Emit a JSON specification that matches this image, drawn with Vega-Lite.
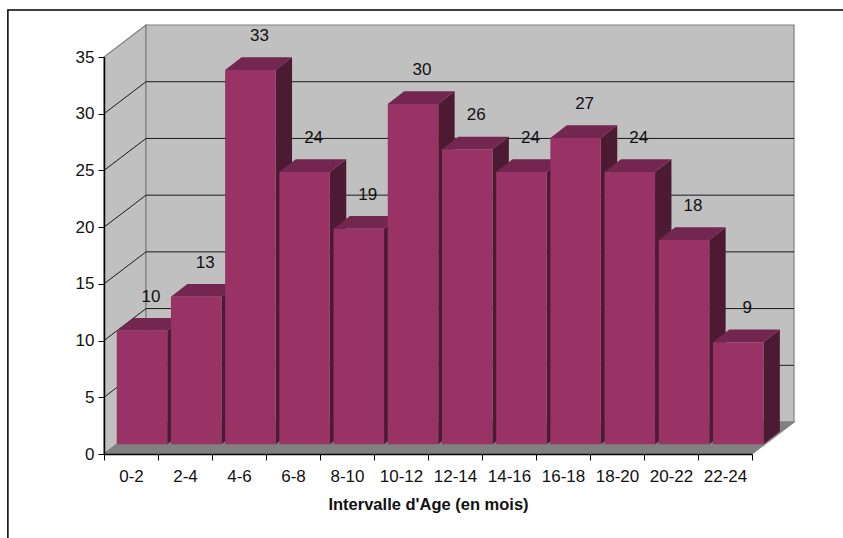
{
  "$schema": "https://vega.github.io/schema/vega-lite/v6.json",
  "width": 648,
  "height": 397,
  "padding": {"left": 104, "top": 57, "right": 91, "bottom": 84},
  "autosize": "none",
  "background": "white",
  "config": {
    "view": {"stroke": null},
    "font": "Liberation Sans",
    "axis": {"labelFont": "Liberation Sans", "labelColor": "#111111", "titleFont": "Liberation Sans", "titleColor": "#111111"}
  },
  "datasets": {
    "ages": [
      {"age": "0-2", "count": 10},
      {"age": "2-4", "count": 13},
      {"age": "4-6", "count": 33},
      {"age": "6-8", "count": 24},
      {"age": "8-10", "count": 19},
      {"age": "10-12", "count": 30},
      {"age": "12-14", "count": 26},
      {"age": "14-16", "count": 24},
      {"age": "16-18", "count": 27},
      {"age": "18-20", "count": 24},
      {"age": "20-22", "count": 18},
      {"age": "22-24", "count": 9}
    ],
    "gridValues": [{"v": 5}, {"v": 10}, {"v": 15}, {"v": 20}, {"v": 25}, {"v": 30}]
  },
  "resolve": {"scale": {"x": "independent"}},
  "layer": [
    {
      "layer": [
        {
          "description": "Outer chart frame, running past the window on the right and bottom",
          "data": {"values": [{"x": -1.78, "x2": 15, "y": 39.15, "y2": -12}]},
          "mark": {"type": "rect", "fill": "white", "stroke": "#000000", "strokeWidth": 1.5},
          "encoding": {
            "x": {"field": "x", "type": "quantitative", "scale": {"domain": [0, 12], "nice": false, "zero": false}, "axis": null},
            "x2": {"field": "x2"},
            "y": {
              "field": "y",
              "type": "quantitative",
              "scale": {"domain": [0, 35], "nice": false},
              "axis": {
                "orient": "left",
                "values": [0, 5, 10, 15, 20, 25, 30, 35],
                "title": null,
                "grid": false,
                "domainColor": "#000000",
                "domainWidth": 1.5,
                "tickColor": "#000000",
                "tickSize": 6,
                "tickWidth": 1,
                "labelFontSize": 17,
                "labelPadding": 4,
                "zindex": 1
              }
            },
            "y2": {"field": "y2"}
          }
        },
        {
          "description": "Side wall, back wall and floor of the 3D box",
          "data": {"values": [
            {"part": "side", "x": 0, "y": 0, "y2": 35},
            {"part": "side", "x": 0.778, "y": 2.82, "y2": 37.82},
            {"part": "back", "x": 0.778, "y": 2.82, "y2": 37.82},
            {"part": "back", "x": 12.778, "y": 2.82, "y2": 37.82},
            {"part": "floor", "x": 0, "y": 0, "y2": 0},
            {"part": "floor", "x": 0.778, "y": 0, "y2": 2.82},
            {"part": "floor", "x": 12, "y": 0, "y2": 2.82},
            {"part": "floor", "x": 12.778, "y": 2.82, "y2": 2.82}
          ]},
          "mark": {"type": "area", "orient": "vertical", "stroke": "#808080", "strokeWidth": 1.2},
          "encoding": {
            "x": {"field": "x", "type": "quantitative"},
            "y": {"field": "y", "type": "quantitative", "stack": null},
            "y2": {"field": "y2"},
            "detail": {"field": "part"},
            "color": {
              "field": "part",
              "type": "nominal",
              "legend": null,
              "scale": {
                "domain": ["side", "back", "floor", "barSide", "barTop", "barFront"],
                "range": ["#c0c0c0", "#c0c0c0", "#808080", "#4d1a33", "#732650", "#993366"]
              }
            }
          }
        },
        {
          "description": "Gridlines bending from the side wall onto the back wall",
          "data": {"name": "gridValues"},
          "transform": [
            {"calculate": "[{x: 0, y: datum.v}, {x: 0.778, y: datum.v + 2.82}, {x: 12.778, y: datum.v + 2.82}]", "as": "pts"},
            {"flatten": ["pts"]},
            {"calculate": "datum.pts.x", "as": "px"},
            {"calculate": "datum.pts.y", "as": "py"}
          ],
          "mark": {"type": "line", "color": "#1a1a1a", "strokeWidth": 1},
          "encoding": {
            "x": {"field": "px", "type": "quantitative"},
            "y": {"field": "py", "type": "quantitative"},
            "detail": {"field": "v"}
          }
        },
        {
          "description": "Each bar as side, top and front faces, painted left to right",
          "data": {"name": "ages"},
          "transform": [
            {"calculate": "parseInt(split(datum.age, '-')[0]) / 2 * 1.0037 + 0.236", "as": "x0"},
            {"calculate": "datum.x0 + 0.935", "as": "x1"},
            {"calculate": "datum.count + 0.86", "as": "t"},
            {"calculate": "[{f: 'barSide', x: datum.x1, y: 0.86, y2: datum.t}, {f: 'barSide', x: datum.x1 + 0.304, y: 1.98, y2: datum.t + 1.12}, {f: 'barTop', x: datum.x0, y: datum.t, y2: datum.t}, {f: 'barTop', x: datum.x0 + 0.304, y: datum.t, y2: datum.t + 1.12}, {f: 'barTop', x: datum.x1, y: datum.t, y2: datum.t + 1.12}, {f: 'barTop', x: datum.x1 + 0.304, y: datum.t + 1.12, y2: datum.t + 1.12}, {f: 'barFront', x: datum.x0, y: 0.86, y2: datum.t}, {f: 'barFront', x: datum.x1, y: 0.86, y2: datum.t}]", "as": "faces"},
            {"flatten": ["faces"]},
            {"calculate": "datum.faces.f", "as": "part"},
            {"calculate": "datum.faces.x", "as": "px"},
            {"calculate": "datum.faces.y", "as": "py"},
            {"calculate": "datum.faces.y2", "as": "py2"}
          ],
          "mark": {"type": "area", "orient": "vertical"},
          "encoding": {
            "x": {"field": "px", "type": "quantitative"},
            "y": {"field": "py", "type": "quantitative", "stack": null},
            "y2": {"field": "py2"},
            "detail": {"field": "age"},
            "color": {"field": "part", "type": "nominal", "legend": null}
          }
        },
        {
          "description": "Value labels floating above the bars",
          "data": {"name": "ages"},
          "transform": [
            {"calculate": "parseInt(split(datum.age, '-')[0]) / 2 * 1.0037 + 0.87", "as": "lx"},
            {"calculate": "datum.count + 3.85", "as": "ly"}
          ],
          "mark": {"type": "text", "fontSize": 17, "color": "#111111", "baseline": "middle", "align": "center"},
          "encoding": {
            "x": {"field": "lx", "type": "quantitative"},
            "y": {"field": "ly", "type": "quantitative"},
            "text": {"field": "count", "type": "quantitative"}
          }
        }
      ]
    },
    {
      "description": "Category axis with ticks on the band edges",
      "data": {"name": "ages"},
      "mark": {"type": "point", "opacity": 0},
      "encoding": {
        "x": {
          "field": "age",
          "type": "ordinal",
          "sort": null,
          "scale": {"type": "band", "paddingInner": 0, "paddingOuter": 0},
          "axis": {
            "orient": "bottom",
            "title": "Intervalle d'Age (en mois)",
            "titleFontSize": 16.5,
            "titleFontWeight": "bold",
            "titlePadding": 12,
            "tickBand": "extent",
            "labelAngle": 0,
            "labelFontSize": 17,
            "labelPadding": 8,
            "domainColor": "#000000",
            "domainWidth": 1.5,
            "tickColor": "#000000",
            "tickSize": 6,
            "tickWidth": 1,
            "zindex": 1
          }
        },
        "y": {"datum": 0, "type": "quantitative"}
      }
    }
  ]
}
